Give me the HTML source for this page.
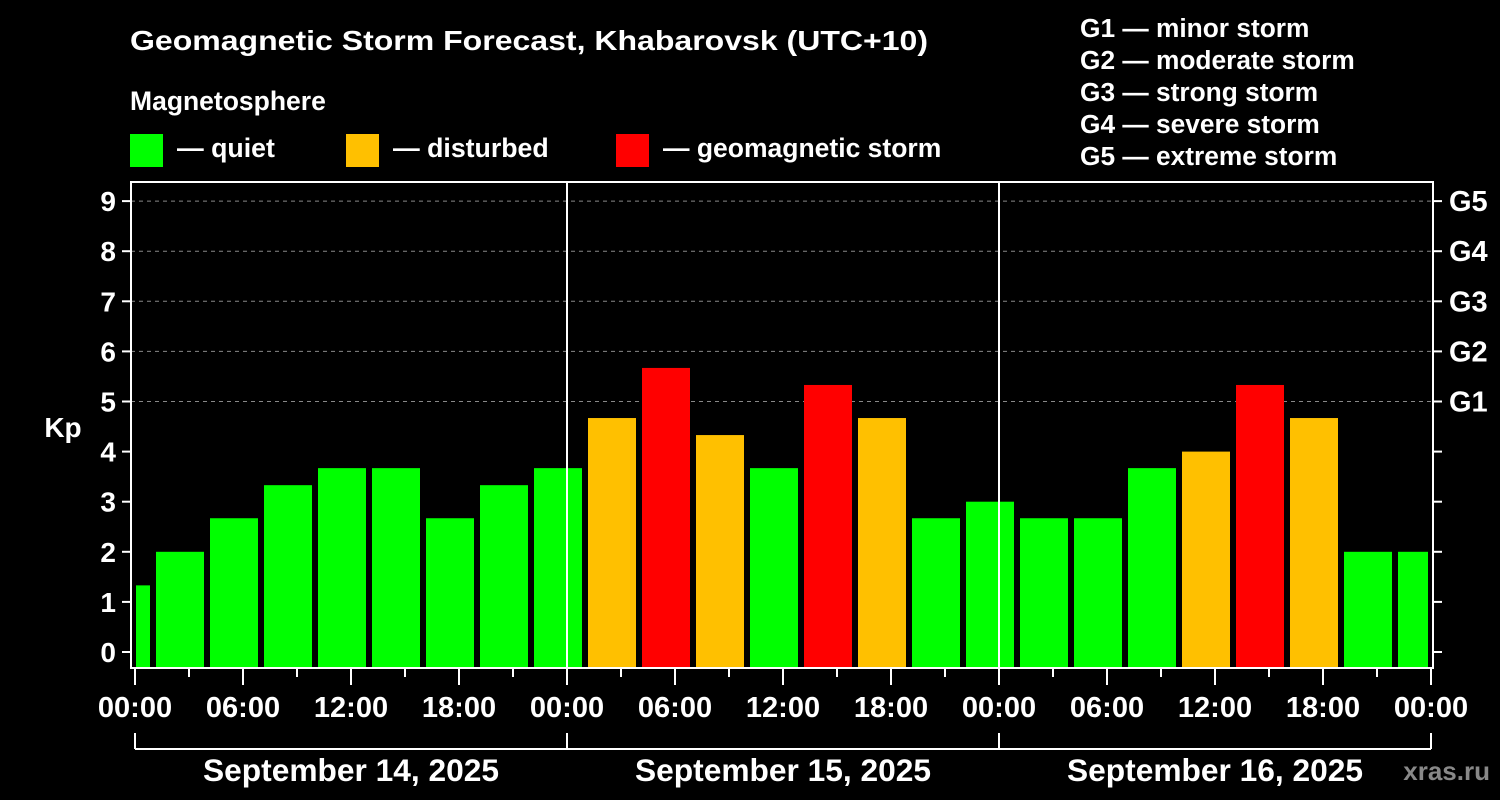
<!DOCTYPE html>
<html><head><meta charset="utf-8"><style>
html,body{margin:0;padding:0;background:#000;}
svg{display:block;font-family:"Liberation Sans",Arial,sans-serif;font-weight:bold;}
</style></head><body>
<svg id="chart" width="1500" height="800" viewBox="0 0 1500 800">
<rect x="0" y="0" width="1500" height="800" fill="#000"/>
<text x="130" y="50" fill="#fff" font-size="28" textLength="798" lengthAdjust="spacingAndGlyphs">Geomagnetic Storm Forecast, Khabarovsk (UTC+10)</text>
<text x="130" y="110" fill="#fff" font-size="26.5">Magnetosphere</text>
<g><rect x="130" y="134" width="33" height="33" fill="#00ff00"/><text x="177" y="157" fill="#fff" font-size="26.7">— quiet</text></g>
<g><rect x="346" y="134" width="33" height="33" fill="#ffc000"/><text x="393" y="157" fill="#fff" font-size="26.7">— disturbed</text></g>
<g><rect x="616" y="134" width="33" height="33" fill="#ff0000"/><text x="663" y="157" fill="#fff" font-size="26.5">— geomagnetic storm</text></g>
<g fill="#fff" font-size="26.3">
<text x="1080" y="37">G1 — minor storm</text>
<text x="1080" y="69">G2 — moderate storm</text>
<text x="1080" y="101">G3 — strong storm</text>
<text x="1080" y="133">G4 — severe storm</text>
<text x="1080" y="165">G5 — extreme storm</text>
</g>
<g id="grid"></g>
<g id="bars"></g>
<g id="axes"></g>
<text x="63" y="437" fill="#fff" font-size="28" text-anchor="middle">Kp</text>
<text x="1490" y="780" fill="#888" font-size="26" text-anchor="end">xras.ru</text>
</svg>
<script>
const kpValues = [1.33,2,2.67,3.33,3.67,3.67,2.67,3.33,3.67, 4.67,5.67,4.33,3.67,5.33,4.67,2.67,3.0, 2.67,2.67,3.67,4.0,5.33,4.67,2.0,2.0];
const yTicks = [0,1,2,3,4,5,6,7,8,9];
const gLabels = ["G1","G2","G3","G4","G5"];
const gLevels = [5,6,7,8,9];
const xTickLabels = ["00:00","06:00","12:00","18:00","00:00","06:00","12:00","18:00","00:00","06:00","12:00","18:00","00:00"];
const dayLabels = ["September 14, 2025","September 15, 2025","September 16, 2025"];

const NS="http://www.w3.org/2000/svg";
const X0=135, PXH=18, Y0=652, PXK=50.1, LEFT=131, RIGHT=1433, TOP=182, BOTTOM=668;
const xs=h=>X0+PXH*h, ys=k=>Y0-PXK*k;
function mk(tag,attrs,parent){const e=document.createElementNS(NS,tag);for(const k in attrs)e.setAttribute(k,attrs[k]);parent.appendChild(e);return e;}
const grid=document.getElementById('grid'), bars=document.getElementById('bars'), axes=document.getElementById('axes');

gLevels.forEach((k,i)=>{
  const l=mk('line',{x1:LEFT,x2:RIGHT,y1:ys(k),y2:ys(k),stroke:'#888','stroke-dasharray':'4,4','stroke-width':1},grid);
  
  
  const t=mk('text',{x:1449,y:ys(k)+10,fill:'#fff','font-size':29},axes);t.textContent=gLabels[i];
  
  
});

kpValues.forEach((v,i)=>{
  let s=(i===0)?0:1+3*(i-1), e=(i===0)?1:s+3;
  if(e>72)e=72;
  let x1=xs(s)+(i===0?1:3), x2=xs(e)-3;
  const c=v>=5?'#ff0000':(v>=4?'#ffc000':'#00ff00');
  const r=mk('rect',{x:x1,y:ys(v),width:x2-x1,height:BOTTOM-ys(v),fill:c},bars);
  
  
});

[24,48].forEach(h=>{
  const l=mk('line',{x1:xs(h),x2:xs(h),y1:TOP,y2:BOTTOM,stroke:'#fff','stroke-width':2},axes);
  
  
});
const frame=mk('rect',{x:LEFT,y:TOP,width:RIGHT-LEFT,height:BOTTOM-TOP,fill:'none',stroke:'#fff','stroke-width':2},axes);



yTicks.forEach(k=>{
  mk('line',{x1:122,x2:LEFT,y1:ys(k),y2:ys(k),stroke:'#fff','stroke-width':2},axes);
  mk('line',{x1:RIGHT,x2:1442,y1:ys(k),y2:ys(k),stroke:'#fff','stroke-width':2},axes);
  const t=mk('text',{x:116,y:ys(k)+10,fill:'#fff','font-size':28,'text-anchor':'end'},axes);t.textContent=k;
  
  
});

for(let h=0;h<=72;h+=3){
  const major=h%6===0;
  mk('line',{x1:xs(h),x2:xs(h),y1:BOTTOM,y2:major?685:677,stroke:'#fff','stroke-width':2},axes);
}
xTickLabels.forEach((lab,i)=>{
  const t=mk('text',{x:xs(i*6),y:717,fill:'#fff','font-size':29,'text-anchor':'middle'},axes);t.textContent=lab;
  
  
});
mk('line',{x1:xs(0),x2:xs(72),y1:749,y2:749,stroke:'#fff','stroke-width':2},axes);
[0,24,48,72].forEach(h=>mk('line',{x1:xs(h),x2:xs(h),y1:733,y2:749,stroke:'#fff','stroke-width':2},axes));
dayLabels.forEach((d,i)=>{
  const t=mk('text',{x:xs(i*24+12),y:781,fill:'#fff','font-size':31.7,'text-anchor':'middle'},axes);t.textContent=d;
  
  
});
</script>
</body></html>
